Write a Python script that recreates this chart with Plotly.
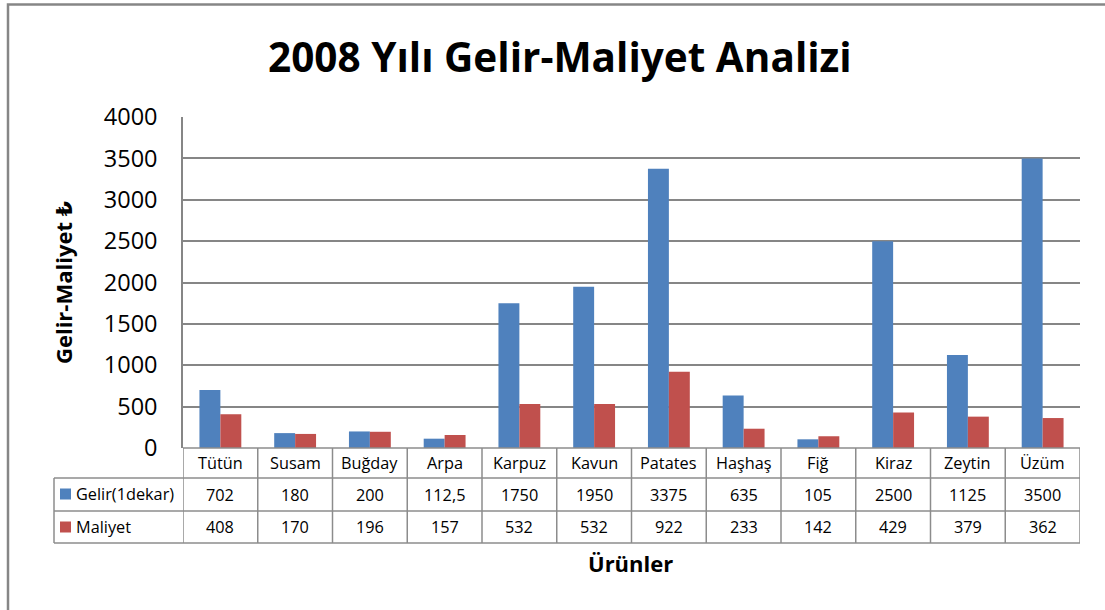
import plotly.graph_objects as go

categories = ["Tütün", "Susam", "Buğday", "Arpa", "Karpuz", "Kavun", "Patates",
              "Haşhaş", "Fiğ", "Kiraz", "Zeytin", "Üzüm"]
gelir = [702, 180, 200, 112.5, 1750, 1950, 3375, 635, 105, 2500, 1125, 3500]
maliyet = [408, 170, 196, 157, 532, 532, 922, 233, 142, 429, 379, 362]
gelir_labels = ["702", "180", "200", "112,5", "1750", "1950", "3375", "635", "105", "2500", "1125", "3500"]
maliyet_labels = [str(v) for v in maliyet]
series_names = ["Gelir(1dekar)", "Maliyet"]
colors = ["#4F81BD", "#C0504D"]

W, H = 1105, 610
L, R, T, B = 183, 25, 117, 162
PH = H - T - B
PW = W - L - R

def py(p):  # pixel y -> paper y
    return (H - B - p) / PH

def px(p):  # pixel x -> paper x
    return (p - L) / PW

FONT = "'Open Sans', 'DejaVu Sans', sans-serif"
LINE = "#8C8C8C"
TBL = 16.3

fig = go.Figure()
fig.add_trace(go.Bar(x=list(range(len(categories))), y=gelir, name=series_names[0],
                     marker=dict(color=colors[0], line=dict(width=0))))
fig.add_trace(go.Bar(x=list(range(len(categories))), y=maliyet, name=series_names[1],
                     marker=dict(color=colors[1], line=dict(width=0))))

shapes = []
annotations = []
n = len(categories)
# table horizontal lines
row_lines = [448, 478, 511, 543]
for i, yl in enumerate(row_lines):
    x0 = px(183) if i == 0 else px(54)
    shapes.append(dict(type="line", xref="paper", yref="paper", x0=x0, x1=1,
                       y0=py(yl), y1=py(yl), line=dict(color=LINE, width=1.5)))
# vertical lines
shapes.append(dict(type="line", xref="paper", yref="paper", x0=px(54), x1=px(54),
                   y0=py(478), y1=py(543), line=dict(color=LINE, width=1.5)))
for k in range(n + 1):
    shapes.append(dict(type="line", xref="x", yref="paper", x0=k - 0.5, x1=k - 0.5,
                       y0=py(448), y1=py(543), line=dict(color=LINE, width=1.5)))
# legend keys
for i, c in enumerate(colors):
    yc = [494, 527][i]
    shapes.append(dict(type="rect", xref="paper", yref="paper", x0=px(60), x1=px(71),
                       y0=py(yc + 5.5), y1=py(yc - 5.5), fillcolor=c, line=dict(width=0)))
    annotations.append(dict(text=series_names[i], xref="paper", yref="paper", x=px(74),
                            y=py(yc), xanchor="left", yanchor="middle", showarrow=False,
                            font=dict(family=FONT, size=TBL, color="black")))
# outer border
shapes.append(dict(type="rect", xref="paper", yref="paper", x0=px(8), x1=px(1130),
                   y0=py(640), y1=py(4.5), line=dict(color="#868686", width=2.5)))

for k in range(n):
    for txt, yc in ((categories[k], 463), (gelir_labels[k], 494.5), (maliyet_labels[k], 527)):
        annotations.append(dict(text=txt, xref="x", yref="paper", x=k, y=py(yc),
                                xanchor="center", yanchor="middle", showarrow=False,
                                font=dict(family=FONT, size=TBL, color="black")))

annotations.append(dict(text="<b>Ürünler</b>", xref="paper", yref="paper", x=px(630), y=py(563),
                        xanchor="center", yanchor="middle",
                        showarrow=False, font=dict(family=FONT, size=22, color="black")))
annotations.append(dict(text="<b>Gelir-Maliyet ₺</b>", xref="paper", yref="paper", x=px(63), y=py(283),
                        xanchor="center", yanchor="middle",
                        textangle=-90, showarrow=False, font=dict(family=FONT, size=22, color="black")))
annotations.append(dict(text="<b>2008 Yılı Gelir-Maliyet Analizi</b>", xref="paper", yref="paper",
                        x=px(560), y=py(57), xanchor="center", yanchor="middle", showarrow=False,
                        font=dict(family=FONT, size=40.5, color="black")))

fig.update_layout(
    width=W, height=H,
    margin=dict(l=L, r=R, t=T, b=B),
    paper_bgcolor="white", plot_bgcolor="white",
    barmode="group", bargap=0.44, bargroupgap=0,
    showlegend=False,
    shapes=shapes, annotations=annotations,
    xaxis=dict(range=[-0.5, n - 0.5], showticklabels=False, showgrid=False, zeroline=False,
               showline=False, ticks=""),
    yaxis=dict(range=[0, 4000], dtick=500, showgrid=True, gridcolor="#868686", gridwidth=1.5,
               zeroline=False, showline=True, linecolor="#868686", linewidth=1.5,
               ticks="", ticklabelstandoff=19,
               tickfont=dict(family=FONT, size=23.5, color="black")),
)

fig.write_html("out.html", config={"displayModeBar": False},
               post_script="document.body.style.margin='0';")
